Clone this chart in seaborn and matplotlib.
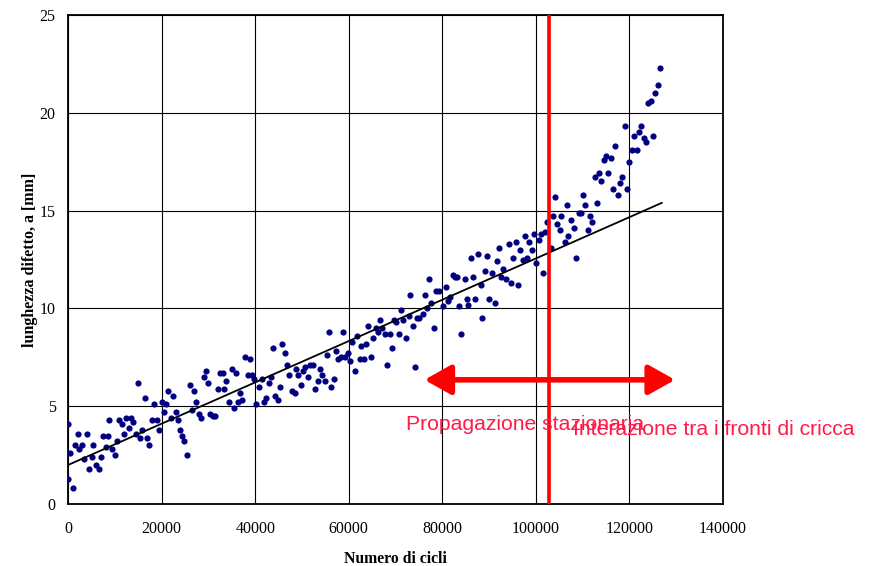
import matplotlib
matplotlib.use("Agg")
import matplotlib.pyplot as plt
from matplotlib.patches import ArrowStyle
import numpy as np
import pandas as pd
import seaborn as sns

# ---- data ----
cycles = [
    0, 300, 0, 1000, 1500, 2000, 2400, 2900, 3400, 4000, 4500, 5000, 5400, 6000, 6500, 7000,
    7500, 8000, 8500, 8800, 9300, 10000, 10400, 10900, 11400, 11900, 12400, 12900, 13400,
    13900, 14500, 14900, 15400, 15800, 16500, 16900, 17300, 17900, 18400, 18900, 19500,
    20000, 20500, 20900, 21400, 21900, 22500, 23000, 23500, 23900, 24300, 24800, 25400,
    26000, 26400, 26900, 27400, 27900, 28300, 29000, 29400, 29900, 30400, 30900, 31300,
    32000, 32500, 33000, 33300, 33800, 34300, 35000, 35400, 35800, 36300, 36700, 37200,
    37900, 38400, 38800, 39400, 39800, 40200, 40800,
    41400, 41900, 42400, 42900, 43300, 43800, 44300, 44800, 45300, 45800, 46300, 46800,
    47300, 47800, 48400, 48800, 49200, 49800, 50300, 50700, 51300, 51800, 52300, 52700,
    53400, 53900, 54300, 54900, 55300, 55700, 56100, 56900, 57300, 57800, 58300, 58700,
    59200, 59800, 60300, 60800, 61300, 61700, 62300, 62700, 63300, 63700, 64200, 64700,
    65200, 65800, 66200, 66700, 67200, 67700, 68200, 68800, 69300, 69700, 70100, 70700,
    71200, 71700, 72300, 72800, 73200, 73700, 74200, 74600, 75000, 75800, 76300, 76800,
    77200, 77700, 78300, 78700, 79300, 80200, 80700, 81200,
    81700, 82200, 82700, 83100, 83600, 84100, 84800, 85200, 85600, 86200, 86600, 87100,
    87700, 88200, 88600, 89100, 89600, 90100, 90700, 91200, 91700, 92100, 92600, 93100,
    93700, 94200, 94700, 95200, 95700, 96100, 96700, 97200, 97600, 98100, 98600, 99100,
    99600, 100100, 100600, 101100, 101500, 102000, 102500, 103200, 103700, 104100, 104600,
    105100, 105500, 106200, 106600, 106900,
    107600, 108100, 108600, 109200, 109700, 110100, 110600, 111100, 111500, 112000, 112700,
    113100, 113600, 114000, 114500, 115000, 115500, 116000, 116500, 117000, 117500, 118000,
    118500, 119000, 119500, 120000, 120500, 121000, 121700, 122100, 122500, 123100, 123500,
    124100, 124700, 125100, 125600, 126100, 126600,
]
length_mm = [
    4.1, 2.6, 1.3, 0.8, 3.0, 3.6, 2.8, 3.0, 2.3, 3.6, 1.8, 2.4, 3.0, 2.0, 1.8, 2.4,
    3.5, 2.9, 3.5, 4.3, 2.8, 2.5, 3.2, 4.3, 4.1, 3.6, 4.4, 3.9, 4.4,
    4.2, 3.6, 6.2, 3.4, 3.8, 5.4, 3.4, 3.0, 4.3, 5.1, 4.3, 3.8,
    5.2, 4.7, 5.1, 5.8, 4.4, 5.5, 4.7, 4.3, 3.8, 3.5, 3.2, 2.5,
    6.1, 4.8, 5.8, 5.2, 4.6, 4.4, 6.5, 6.8, 6.2, 4.6, 4.5, 4.5,
    5.9, 6.7, 6.7, 5.9, 6.3, 5.2, 6.9, 4.9, 6.7, 5.2, 5.7, 5.3,
    7.5, 6.6, 7.4, 6.6, 6.4, 5.1, 6.0,
    6.4, 5.2, 5.4, 6.2, 6.5, 8.0, 5.5, 5.3, 6.0, 8.2, 7.7, 7.1,
    6.6, 5.8, 5.7, 6.9, 6.6, 6.1, 6.8, 7.0, 6.5, 7.1, 7.1, 5.9,
    6.3, 6.9, 6.6, 6.3, 7.6, 8.8, 6.0, 6.4, 7.8, 7.4, 7.5, 8.8,
    7.5, 7.7, 7.3, 8.3, 6.8, 8.6, 7.4, 8.1, 7.4, 8.2, 9.1, 7.5,
    8.5, 9.0, 8.8, 9.4, 9.0, 8.7, 7.1, 8.7, 8.0, 9.4, 9.3, 8.7,
    9.9, 9.4, 8.5, 9.6, 10.7, 9.1, 7.0, 9.5, 9.5, 9.7, 10.7, 10.0,
    11.5, 10.3, 9.0, 10.9, 10.9, 10.1, 11.1, 10.4,
    10.6, 11.7, 11.6, 11.6, 10.1, 8.7, 11.5, 10.5, 10.2, 12.6, 11.6, 10.5,
    12.8, 11.2, 9.5, 11.9, 12.7, 10.5, 11.8, 10.3, 12.4, 13.1, 11.6, 12.0,
    11.5, 13.3, 11.3, 12.6, 13.4, 11.2, 13.0, 12.5, 13.7, 12.6, 13.4, 13.0,
    13.8, 12.3, 13.5, 13.8, 11.8, 13.9, 14.4, 13.1, 14.7, 15.7, 14.3,
    14.0, 14.7, 13.4, 15.3, 13.7,
    14.5, 14.1, 12.6, 14.9, 14.9, 15.8, 15.3, 14.0, 14.7, 14.4, 16.7,
    15.4, 16.9, 16.5, 17.6, 17.8, 16.9, 17.7, 16.1, 18.3, 15.8, 16.4,
    16.7, 19.3, 16.1, 17.5, 18.1, 18.8, 18.1, 19.0, 19.3, 18.7, 18.5,
    20.5, 20.6, 18.8, 21.0, 21.4, 22.3,
]
trend_cycles = [0, 127000]
trend_length = [2.0, 15.4]
x_ticks = [0, 20000, 40000, 60000, 80000, 100000, 120000, 140000]
y_ticks = [0, 5, 10, 15, 20, 25]
transition_cycle = 102900
arrow_span = [76200, 129800]
arrow_level = 6.35
label_stationary = "Propagazione stazionaria"
label_interaction = "Interazione tra i fronti di cricca"
x_title = "Numero di cicli"
y_title = "lunghezza difetto, a [mm]"

# ---- styling ----
sns.set_theme(style="white")
plt.rcParams["font.family"] = ["Liberation Serif", "DejaVu Serif"]

fig = plt.figure(figsize=(8.75, 5.66), dpi=100)
ax = fig.add_axes([0.078, 0.1095, 0.748, 0.864])

df = pd.DataFrame({"cycles": cycles, "length": length_mm})
sns.scatterplot(data=df, x="cycles", y="length", color="#000080", s=20,
                linewidth=0, ax=ax, zorder=3)
sns.lineplot(x=trend_cycles, y=trend_length, color="black", linewidth=1.3,
             ax=ax, zorder=4)

ax.set_xlim(0, 140000)
ax.set_ylim(0, 25)
ax.set_xticks(x_ticks)
ax.set_xticklabels([str(t) for t in x_ticks])
ax.set_yticks(y_ticks)
ax.set_yticklabels([str(t) for t in y_ticks])
ax.grid(True, color="black", linewidth=0.8)
ax.set_axisbelow(True)
ax.tick_params(axis="x", length=0, labelsize=11.5, pad=12, colors="black")
ax.tick_params(axis="y", length=0, labelsize=11.5, pad=9, colors="black")
for sp in ax.spines.values():
    sp.set_color("black")
    sp.set_linewidth(1.3)

ax.set_xlabel(x_title, fontsize=11.3, fontweight="bold", labelpad=10, color="black")
ax.set_ylabel(y_title, fontsize=11.5, fontweight="bold", labelpad=1, color="black")

ax.axvline(transition_cycle, color="#FF0000", linewidth=2.6, zorder=5)
ax.annotate("", xy=(arrow_span[0], arrow_level), xytext=(arrow_span[1], arrow_level),
            arrowprops=dict(arrowstyle=ArrowStyle("<|-|>", head_length=0.8, head_width=0.45),
                            color="#FF0000", lw=4, mutation_scale=20,
                            shrinkA=0, shrinkB=0),
            annotation_clip=False, zorder=6)

ax.text(72240, 4.04, label_stationary, color="#FF1A4A", fontsize=15.2,
        family=["Liberation Sans", "DejaVu Sans"], ha="left", va="center",
        clip_on=False, zorder=7)
ax.text(107960, 3.83, label_interaction, color="#FF1A4A", fontsize=15.2,
        family=["Liberation Sans", "DejaVu Sans"], ha="left", va="center",
        clip_on=False, zorder=7)

fig.savefig("out.png", dpi=100)
